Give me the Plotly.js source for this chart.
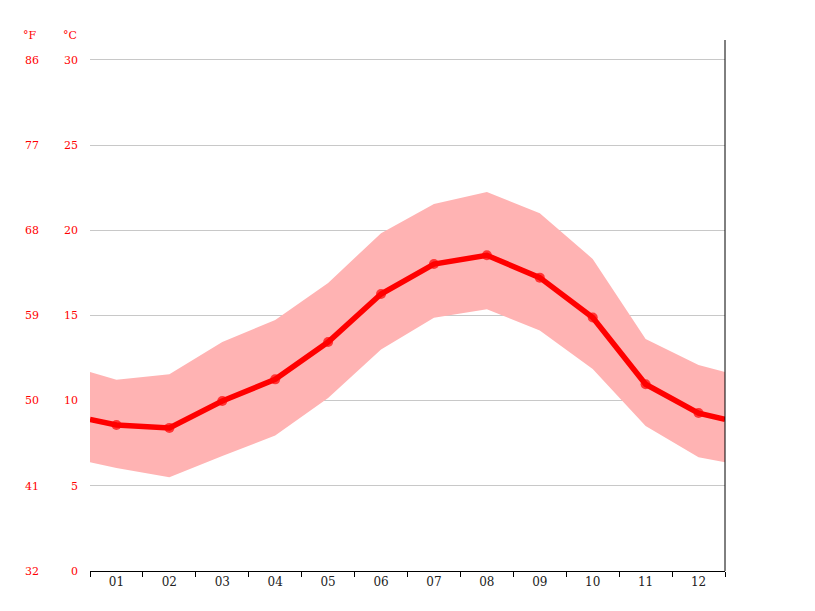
<!DOCTYPE html>
<html><head><meta charset="utf-8">
<script src="https://cdn.plot.ly/plotly-3.0.1.min.js"></script>
<style>html,body{margin:0;padding:0;background:#fff;}#c{width:815px;height:611px;}</style>
</head><body><div id="c"></div>
<script>
// month positions (0.5 and 12.5 are the chart edges)
var xPos = [0.5, 1, 2, 3, 4, 5, 6, 7, 8, 9, 10, 11, 12, 12.5];
var monthLabels = ["01","02","03","04","05","06","07","08","09","10","11","12"];
var monthVals = [1,2,3,4,5,6,7,8,9,10,11,12];
// average temperature °C (edges)
var tempMean = [8.9, 8.57, 8.40, 9.98, 11.25, 13.44, 16.26, 18.02, 18.53, 17.22, 14.88, 10.96, 9.27, 8.9];
var tempMax  = [11.68, 11.23, 11.55, 13.44, 14.74, 16.91, 19.83, 21.55, 22.25, 21.00, 18.32, 13.62, 12.09, 11.68];
var tempMin  = [6.38, 6.05, 5.50, 6.75, 7.95, 10.16, 13.00, 14.87, 15.36, 14.12, 11.86, 8.51, 6.67, 6.38];
var cTicks = [0,5,10,15,20,25,30];
var fTicks = [32,41,50,59,68,77,86];
var markerSizes = xPos.map(function(x){ return (x % 1 === 0) ? 10 : 0; });

var font = {family: "DejaVu Serif", size: 11};
var cTop = 31.17;

var traces = [
  {x: xPos, y: tempMin, mode: 'lines', line: {width: 0, color: 'rgba(0,0,0,0)'}, hoverinfo: 'skip', showlegend: false},
  {x: xPos, y: tempMax, mode: 'lines', fill: 'tonexty', fillcolor: 'rgb(255,179,179)', line: {width: 0, color: 'rgba(0,0,0,0)'}, hoverinfo: 'skip', showlegend: false},
  {x: xPos, y: tempMean, mode: 'lines+markers', line: {width: 5.5, color: '#ff0000'}, marker: {size: markerSizes, color: '#ff0000', line: {width: 0}}, showlegend: false},
  {x: [1], y: [50], yaxis: 'y2', mode: 'markers', marker: {opacity: 0}, hoverinfo: 'skip', showlegend: false}
];

var layout = {
  width: 815, height: 611,
  margin: {l: 90, r: 90, t: 40, b: 40},
  paper_bgcolor: '#fff', plot_bgcolor: '#fff',
  font: font,
  xaxis: {
    range: [0.5, 12.5], tickmode: 'array', tickvals: monthVals, ticktext: monthLabels,
    ticks: '', showgrid: false, zeroline: false,
    showline: true, linecolor: '#000', linewidth: 1,
    tickfont: {family: "DejaVu Serif", size: 12, color: '#222'},
    minor: {tickmode: 'linear', tick0: 0.5, dtick: 1, ticks: 'outside', ticklen: 5, tickcolor: '#000', tickwidth: 1, showgrid: false},
    fixedrange: true
  },
  yaxis: {
    range: [0, cTop], tickmode: 'array', tickvals: cTicks, ticktext: cTicks.map(String),
    ticks: '', showgrid: true, gridcolor: '#c8c8c8', gridwidth: 1, zeroline: false, showline: false,
    tickfont: {family: "DejaVu Serif", size: 11, color: '#ff0000'},
    ticklabelstandoff: 11, fixedrange: true
  },
  yaxis2: {
    overlaying: 'y', anchor: 'free', position: 0, side: 'left',
    range: [32, 32 + cTop * 1.8], tickmode: 'array', tickvals: fTicks, ticktext: fTicks.map(String),
    ticks: '', showgrid: false, zeroline: false, showline: false,
    tickfont: {family: "DejaVu Serif", size: 11, color: '#ff0000'},
    ticklabelstandoff: 51, fixedrange: true
  },
  shapes: [
    {type: 'line', xref: 'paper', yref: 'paper', x0: 1, x1: 1, y0: 0, y1: 1, line: {color: '#000', width: 1}}
  ],
  annotations: [
    {text: '°F', xref: 'paper', yref: 'paper', x: 0, y: 1, xanchor: 'right', yanchor: 'bottom', xshift: -51, yshift: -4, showarrow: false, font: {family: "DejaVu Serif", size: 11, color: '#ff0000'}},
    {text: '°C', xref: 'paper', yref: 'paper', x: 0, y: 1, xanchor: 'right', yanchor: 'bottom', xshift: -11, yshift: -4, showarrow: false, font: {family: "DejaVu Serif", size: 11, color: '#ff0000'}}
  ]
};

Plotly.newPlot('c', traces, layout, {displayModeBar: false, staticPlot: true});
</script></body></html>
